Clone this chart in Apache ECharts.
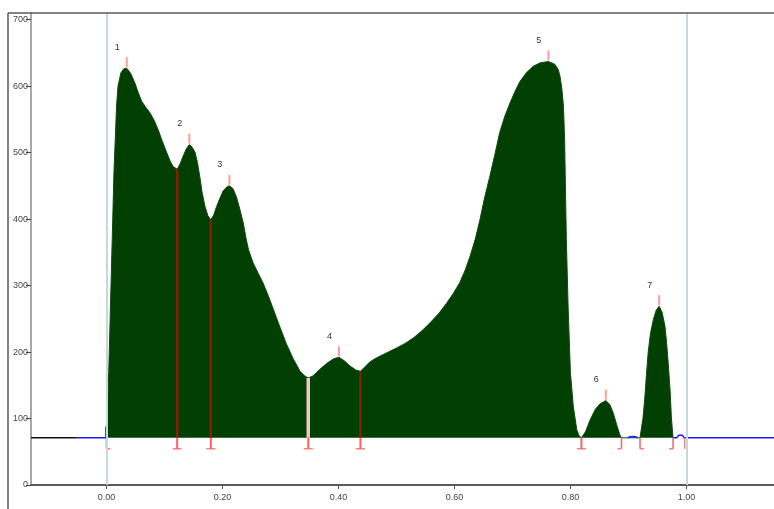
<!DOCTYPE html>
<html>
<head>
<meta charset="utf-8">
<script src="https://cdn.jsdelivr.net/npm/echarts@6/dist/echarts.min.js"></script>
<style>
html,body{margin:0;padding:0;background:#fff;}
#chart{width:774px;height:509px;}
</style>
</head>
<body>
<div id="chart"></div>
<script>
// ---- data ----
const baseline = 71;
const xTicks = [0, 0.2, 0.4, 0.6, 0.8, 1.0];
const yTicks = [0, 100, 200, 300, 400, 500, 600, 700];

const curveX = [0.000,0.001,0.004,0.007,0.010,0.013,0.0175,0.020,0.025,0.030,0.035,0.042,0.049,0.055,0.061,0.068,0.075,0.082,0.089,0.096,0.104,0.110,0.115,0.122,0.127,0.132,0.138,0.143,0.148,0.153,0.157,0.161,0.165,0.170,0.175,0.180,0.185,0.190,0.196,0.201,0.207,0.212,0.218,0.224,0.230,0.236,0.241,0.245,0.253,0.262,0.270,0.279,0.288,0.299,0.310,0.322,0.334,0.342,0.348,0.356,0.368,0.380,0.392,0.401,0.410,0.420,0.430,0.438,0.446,0.454,0.463,0.472,0.486,0.500,0.515,0.529,0.544,0.558,0.573,0.587,0.598,0.609,0.618,0.627,0.636,0.644,0.652,0.661,0.670,0.678,0.687,0.696,0.705,0.713,0.724,0.736,0.748,0.762,0.773,0.779,0.782,0.785,0.788,0.790,0.791,0.793,0.796,0.800,0.805,0.811,0.815,0.819,0.826,0.834,0.843,0.851,0.861,0.868,0.874,0.880,0.885,0.888,0.920,0.925,0.928,0.931,0.934,0.938,0.943,0.948,0.953,0.958,0.963,0.966,0.969,0.972,0.974,0.976,0.977];
const curveY = [71,90,169,269,369,470,570,600,620,626,627,619,605,590,577,568,560,549,535,518,500,487,479,475,483,494,506,512,508,500,485,464,440,419,405,399,406,419,432,442,448,450,446,434,415,394,370,354,334,318,304,285,264,238,213,190,171,164,161,164,174,183,190,192,187,179,173,171,178,185,190,194,200,206,213,221,232,244,258,274,288,304,322,344,370,399,432,464,498,530,555,575,593,607,620,630,635,637,633,625,615,598,570,520,469,369,269,169,118,83,74,71,80,98,114,122,127,121,108,90,76,71,71,100,128,165,199,228,249,263,269,260,239,212,179,140,103,80,71];

const blackX = [-0.13, -0.051];
const blackY = [71, 71];
const blueX = [-0.051, 0.000, null, 0.899, 0.903, 0.908, 0.913, 0.916, null, 0.977, 0.983, 0.987, 0.990, 0.993, 0.996, 1.151];
const blueY = [71, 71, null, 71, 72.5, 73, 72.5, 71, null, 71, 71, 75, 77, 75, 71, 71];

const refLinesX = [0, 1];

const peakLabels = ['1', '2', '3', '4', '5', '6', '7'];
const peakX = [0.035, 0.143, 0.212, 0.401, 0.762, 0.861, 0.953];
const peakY = [627, 512, 450, 192, 637, 127, 269];

const dropX = [0.000, 0.122, 0.180, 0.348, 0.438];
const dropY = [88, 475, 399, 161, 171];

const bracketX = [0.000, 0.122, 0.180, 0.348, 0.438, 0.819, 0.888, 0.920, 0.977, 0.997];
const bracketKind = ['start', 'split', 'split', 'split', 'split', 'split', 'end', 'start', 'end', 'mark'];

// ---- chart ----
const zip = (xs, ys) => xs.map((x, i) => (x === null ? null : [x, ys[i]]));
const FONT = '"Liberation Sans", Arial, sans-serif';

const chart = echarts.init(document.getElementById('chart'), null, { renderer: 'canvas' });

const option = {
  animation: false,
  backgroundColor: '#ffffff',
  grid: { left: 31, right: 0, top: 13, bottom: 24, containLabel: false },
  xAxis: {
    type: 'value',
    min: -0.13,
    max: 1.151,
    splitLine: { show: false },
    axisLine: { show: true, onZero: false, lineStyle: { color: '#5a5a5a', width: 2 } },
    axisTick: { show: true, customValues: xTicks, length: 4, lineStyle: { color: '#555', width: 1 } },
    axisLabel: { customValues: xTicks, formatter: v => v.toFixed(2), color: '#444', fontSize: 9, fontFamily: FONT, margin: 8 }
  },
  yAxis: {
    type: 'value',
    min: 0,
    max: 710,
    splitLine: { show: false },
    axisLine: { show: true, onZero: false, lineStyle: { color: '#a8a8a8', width: 2 } },
    axisTick: { show: true, customValues: yTicks, length: 5, lineStyle: { color: '#444', width: 1 } },
    axisLabel: { customValues: yTicks, color: '#444', fontSize: 9, fontFamily: FONT, margin: 3 }
  },
  graphic: [
    { type: 'line', z: 100, shape: { x1: 8, y1: 13, x2: 774, y2: 13 }, style: { stroke: '#5a5a5a', lineWidth: 1.5 } },
    { type: 'line', z: 100, shape: { x1: 8, y1: 13, x2: 8, y2: 509 }, style: { stroke: '#5a5a5a', lineWidth: 1.5 } }
  ],
  series: [
    {
      type: 'line',
      name: 'refs',
      data: [],
      z: 1,
      silent: true,
      markLine: {
        silent: true,
        symbol: ['none', 'none'],
        label: { show: false },
        lineStyle: { color: '#c6d8dc', width: 2, type: 'solid' },
        data: refLinesX.map(x => ({ xAxis: x }))
      }
    },
    {
      type: 'line',
      name: 'signal',
      z: 2,
      data: zip(curveX, curveY),
      showSymbol: false,
      smooth: false,
      lineStyle: { color: '#0f4a0f', width: 1 },
      areaStyle: { origin: baseline, color: '#023f02', opacity: 1 }
    },
    {
      type: 'line',
      name: 'baseLeft',
      z: 3,
      data: zip(blackX, blackY),
      showSymbol: false,
      lineStyle: { color: '#111', width: 1.5 }
    },
    {
      type: 'line',
      name: 'blue',
      z: 3,
      data: zip(blueX, blueY),
      showSymbol: false,
      connectNulls: false,
      smooth: false,
      lineStyle: { color: '#1a1aff', width: 1.5 }
    },
    {
      type: 'custom',
      name: 'drops',
      z: 4,
      data: zip(dropX, dropY),
      renderItem: function (params, api) {
        const top = api.coord([api.value(0), api.value(1)]);
        const bot = api.coord([api.value(0), baseline]);
        const light = params.dataIndex === 3;
        return {
          type: 'line',
          shape: { x1: top[0], y1: top[1], x2: bot[0], y2: bot[1] },
          style: { stroke: light ? '#f3c6c0' : '#8a1c06', lineWidth: light ? 3.5 : 2.5 }
        };
      }
    },
    {
      type: 'custom',
      name: 'brackets',
      z: 4,
      data: bracketX.map(x => [x, baseline]),
      renderItem: function (params, api) {
        const p = api.coord([api.value(0), api.value(1)]);
        const kind = bracketKind[params.dataIndex];
        const yb = p[1] + 11;
        const col = '#ff6060';
        const children = [
          { type: 'line', shape: { x1: p[0], y1: p[1], x2: p[0], y2: yb }, style: { stroke: kind === 'mark' ? '#e08a8a' : col, lineWidth: kind === 'split' ? 2 : 1.5 } }
        ];
        if (kind === 'start') children.push({ type: 'line', shape: { x1: p[0], y1: yb, x2: p[0] + 4, y2: yb }, style: { stroke: col, lineWidth: 1.2 } });
        if (kind === 'end') children.push({ type: 'line', shape: { x1: p[0] - 4, y1: yb, x2: p[0], y2: yb }, style: { stroke: col, lineWidth: 1.2 } });
        if (kind === 'split') children.push({ type: 'line', shape: { x1: p[0] - 4.5, y1: yb, x2: p[0] + 4.5, y2: yb }, style: { stroke: col, lineWidth: 1.2 } });
        return { type: 'group', children: children };
      }
    },
    {
      type: 'custom',
      name: 'peaks',
      z: 5,
      data: zip(peakX, peakY),
      renderItem: function (params, api) {
        const p = api.coord([api.value(0), api.value(1)]);
        return {
          type: 'group',
          children: [
            { type: 'line', shape: { x1: p[0], y1: p[1] - 1, x2: p[0], y2: p[1] - 11 }, style: { stroke: '#ff9c9c', lineWidth: 2 } },
            { type: 'text', x: p[0] - 9.5, y: p[1] - 21, style: { text: peakLabels[params.dataIndex], fill: '#333', font: '9px ' + FONT, align: 'center', verticalAlign: 'middle' } }
          ]
        };
      }
    }
  ]
};
chart.setOption(option);
</script>
</body>
</html>
